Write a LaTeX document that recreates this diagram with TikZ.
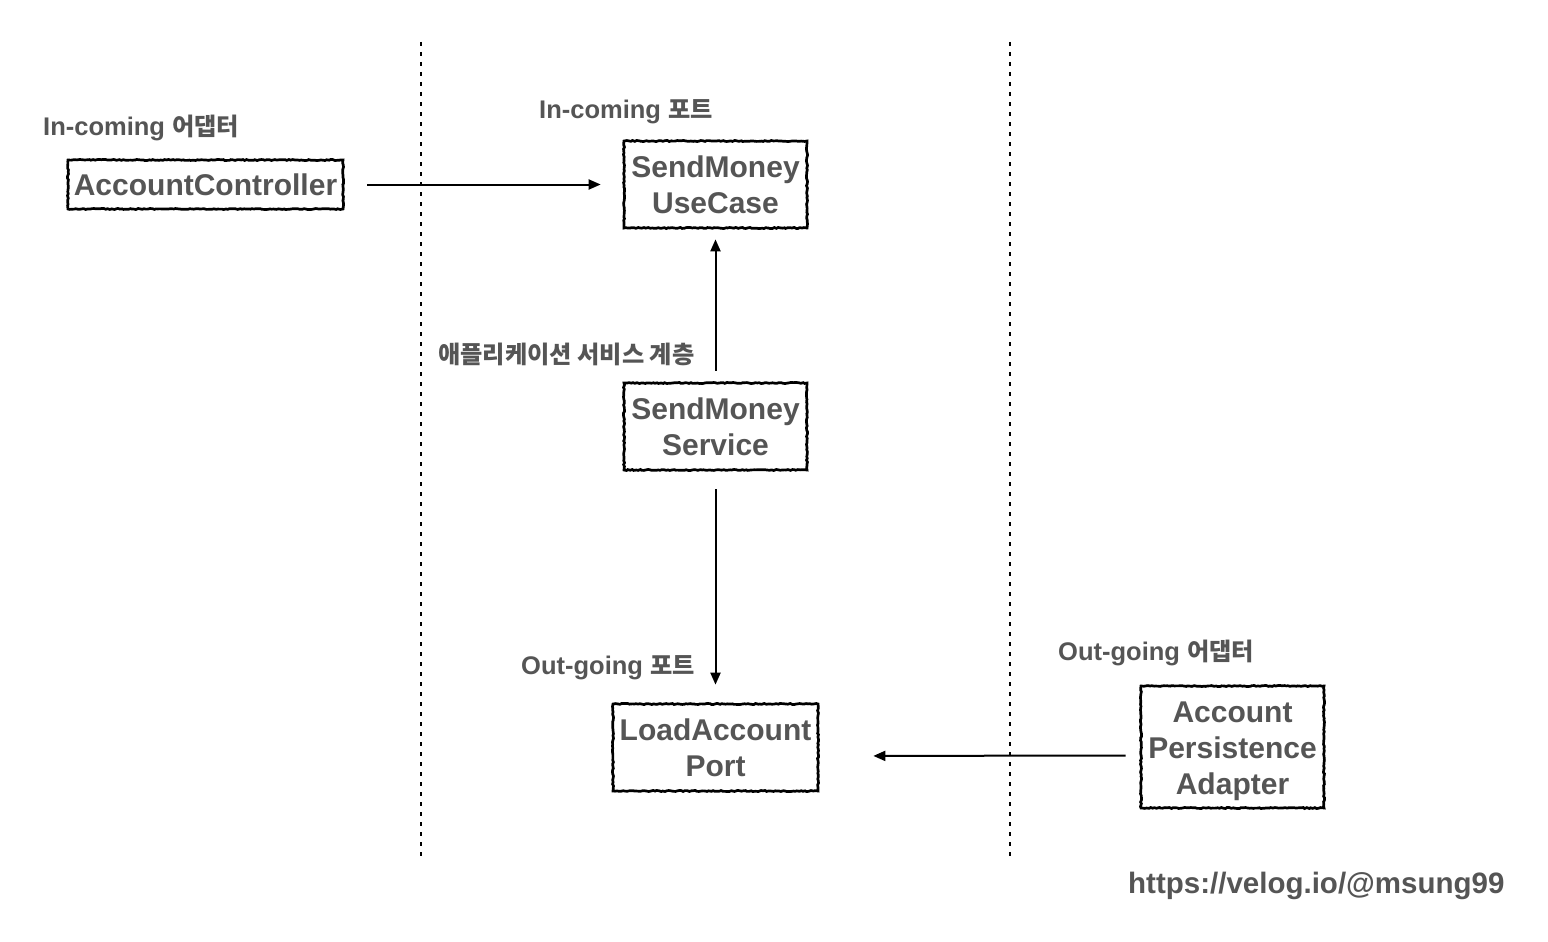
\documentclass[tikz,border=0pt]{standalone}
\usepackage{fontspec}
\setmainfont{Liberation Sans}
\newfontfamily\kr{Noto Sans CJK KR}[Scale=0.95]
\usetikzlibrary{arrows.meta,decorations.pathmorphing}
\definecolor{txt}{RGB}{85,85,85}
\begin{document}
\begin{tikzpicture}[x=1pt,y=-1pt,
  box/.style={draw=black, line width=2.7pt, fill=white, align=center, inner sep=0pt,
    text=txt, font=\bfseries\fontsize{30}{36}\selectfont,
    decorate, decoration={random steps, segment length=2pt, amplitude=0.55pt}},
  lbl/.style={anchor=west, text=txt, inner sep=0pt, font=\bfseries\fontsize{25.5}{30}\selectfont},
  arr/.style={line width=2pt, -{Triangle[length=12pt,width=10pt]}},
  sep/.style={line width=2.8pt, dash pattern=on 4pt off 6pt}]
\useasboundingbox[fill=white] (0,0) rectangle (1548,942);
% separators
\coordinate (s1t) at (421,42); \coordinate (s1b) at (421,858);
\coordinate (s2t) at (1010,42); \coordinate (s2b) at (1010,858);
\draw[sep] (s1t) -- (s1b);
\draw[sep] (s2t) -- (s2b);
% boxes
\node[box, minimum width=275pt, minimum height=49pt] (ctrl) at (205.5,184.5) {AccountController};
\node[box, minimum width=183pt, minimum height=87pt] (uc) at (715.5,184.5) {SendMoney\\UseCase};
\node[box, minimum width=183pt, minimum height=87pt] (svc) at (715.5,426.5) {SendMoney\\Service};
\node[box, minimum width=205pt, minimum height=87pt] (load) at (715.5,747.5) {LoadAccount\\Port};
\node[box, minimum width=183pt, minimum height=122pt] (pers) at (1232.5,747) {\rule{0pt}{30pt}Account\\Persistence\\Adapter};
% labels
\node[lbl] (l1) at (43,128) {In-coming {\kr 어댑터}};
\node[lbl] (l2) at (539,112) {In-coming {\kr 포트}};
\node[lbl] (l3) at (438,354) {\kr 애플리케이션 서비스 계층};
\node[lbl] (l4) at (521,668) {Out-going {\kr 포트}};
\node[lbl] (l5) at (1058,653) {Out-going {\kr 어댑터}};
\node[lbl, font=\bfseries\fontsize{29.5}{34}\selectfont] (url) at (1128,886) {https://velog.io/@msung99};
% arrows
\draw[arr, shorten <=23pt, shorten >=22pt] (ctrl.east) -- (uc.west);
\draw[arr, shorten <=11pt, shorten >=10pt] (svc.north) -- (uc.south);
\draw[arr, shorten <=18pt, shorten >=18pt] (svc.south) -- (load.north);
\draw[arr, shorten <=14pt, shorten >=54pt] ([yshift=-8.5pt]pers.west) -- ([yshift=-8.5pt]load.east);
\end{tikzpicture}
\end{document}
